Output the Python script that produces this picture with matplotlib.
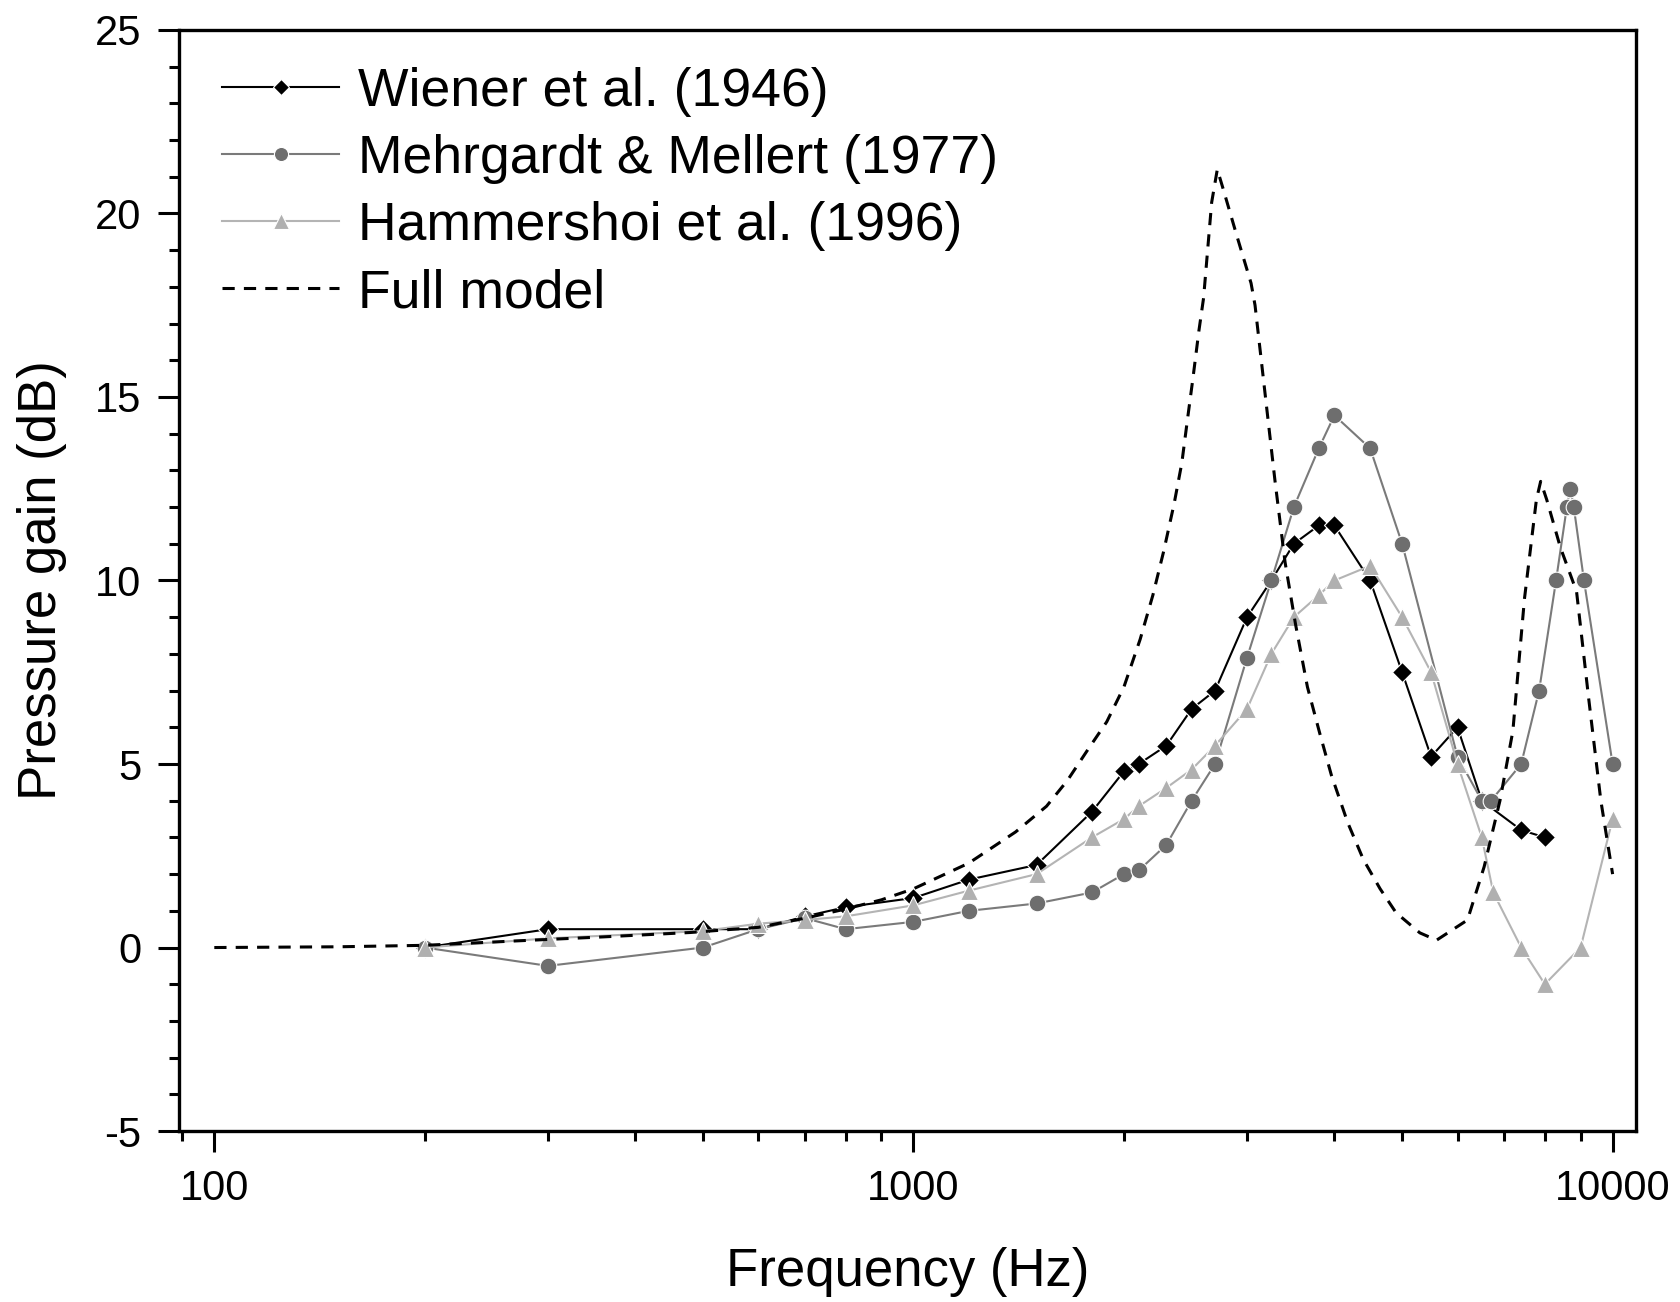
import matplotlib
matplotlib.use("Agg")
import matplotlib.pyplot as plt
from matplotlib.ticker import FixedLocator, MultipleLocator, LogLocator, NullFormatter

plt.rcParams["font.family"] = ["Liberation Sans", "DejaVu Sans"]
plt.rcParams["axes.unicode_minus"] = False

# -----------------------------
# Measured ear-canal pressure gain
# -----------------------------
wiener_freq = [200, 300, 500, 600, 700, 800, 1000, 1200, 1500, 1800, 2000, 2100, 2300,
               2500, 2700, 3000, 3250, 3500, 3800, 4000, 4500, 5000, 5500, 6000, 6500,
               7400, 8000]
wiener_gain = [0, 0.5, 0.5, 0.5, 0.85, 1.1, 1.35, 1.85, 2.25, 3.7, 4.8, 5.0, 5.5,
               6.5, 7.0, 9.0, 10.0, 11.0, 11.5, 11.5, 10.0, 7.5, 5.2, 6.0, 4.0,
               3.2, 3.0]

mehrgardt_freq = [200, 300, 500, 600, 700, 800, 1000, 1200, 1500, 1800, 2000, 2100, 2300,
                  2500, 2700, 3000, 3250, 3500, 3800, 4000, 4500, 5000, 6000, 6500, 6700,
                  7400, 7850, 8300, 8600, 8700, 8800, 9100, 10000]
mehrgardt_gain = [0, -0.5, 0, 0.5, 0.8, 0.5, 0.7, 1.0, 1.2, 1.5, 2.0, 2.1, 2.8,
                  4.0, 5.0, 7.9, 10.0, 12.0, 13.6, 14.5, 13.6, 11.0, 5.2, 4.0, 4.0,
                  5.0, 7.0, 10.0, 12.0, 12.5, 12.0, 10.0, 5.0]

hammershoi_freq = [200, 300, 500, 600, 700, 800, 1000, 1200, 1500, 1800, 2000, 2100, 2300,
                   2500, 2700, 3000, 3250, 3500, 3800, 4000, 4500, 5000, 5500, 6000, 6500,
                   6750, 7400, 8000, 9000, 10000]
hammershoi_gain = [0, 0.25, 0.45, 0.65, 0.75, 0.85, 1.15, 1.55, 2.0, 3.0, 3.5, 3.85, 4.35,
                   4.85, 5.5, 6.5, 8.0, 9.0, 9.6, 10.0, 10.4, 9.0, 7.5, 5.0, 3.0,
                   1.5, 0.0, -1.0, 0.0, 3.5]

# -----------------------------
# Model prediction
# -----------------------------
model_freq = [100, 150, 200, 270, 360, 480, 600, 700, 800, 900, 1000, 1200, 1400, 1550,
              1660, 1770, 1890, 2000, 2110, 2200, 2280, 2360, 2420, 2470, 2510, 2560,
              2600, 2670, 2720, 2770, 2900, 3040, 3080, 3170, 3290, 3400, 3520, 3660,
              3810, 3960, 4180, 4400, 4650, 4900, 5300, 5600, 6200, 6550, 6900, 7200,
              7480, 7780, 7890, 8050, 8420, 8880, 9240, 9620, 10000]
model_gain = [0.0, 0.02, 0.06, 0.18, 0.29, 0.41, 0.55, 0.8, 1.05, 1.3, 1.6, 2.3, 3.15, 3.85,
              4.55, 5.35, 6.15, 7.1, 8.4, 9.6, 10.8, 12.1, 13.2, 14.5, 15.5, 16.8,
              17.7, 20.3, 21.2, 20.7, 19.4, 18.1, 17.5, 15.4, 12.7, 10.5, 8.8, 7.1,
              5.85, 4.7, 3.4, 2.4, 1.6, 0.95, 0.4, 0.2, 0.75, 2.2, 4.0, 5.9,
              9.5, 12.2, 12.7, 12.2, 10.9, 9.7, 6.8, 4.0, 2.0]

series_labels = ["Wiener et al. (1946)", "Mehrgardt & Mellert (1977)",
                 "Hammershoi et al. (1996)", "Full model"]

# -----------------------------
# Plot
# -----------------------------
fig = plt.figure(figsize=(16.8, 13.02), dpi=100)
ax = fig.add_axes([0.1065, 0.1313, 0.8673, 0.8457])

ax.plot(wiener_freq, wiener_gain, color="black", lw=1.5, marker="D", ms=10,
        mfc="black", mec="white", mew=0.8, label=series_labels[0])
ax.plot(mehrgardt_freq, mehrgardt_gain, color="#7a7a7a", lw=1.5, marker="o", ms=12,
        mfc="#6e6e6e", mec="white", mew=0.8, label=series_labels[1])
ax.plot(hammershoi_freq, hammershoi_gain, color="#b4b4b4", lw=1.5, marker="^", ms=13,
        mfc="#b0b0b0", mec="white", mew=0.8, label=series_labels[2])
ax.plot(model_freq, model_gain, color="black", lw=2.2, ls=(0, (4, 3)),
        label=series_labels[3])

ax.set_xscale("log")
ax.set_xlim(89, 10800)
ax.set_ylim(-5, 25)

ax.xaxis.set_major_locator(FixedLocator([100, 1000, 10000]))
ax.xaxis.set_minor_locator(LogLocator(base=10, subs=range(2, 10), numticks=20))
ax.xaxis.set_minor_formatter(NullFormatter())
ax.set_xticklabels(["100", "1000", "10000"])
ax.yaxis.set_major_locator(MultipleLocator(5))
ax.yaxis.set_minor_locator(MultipleLocator(1))

ax.tick_params(which="major", direction="out", length=15, width=2.2, labelsize=30, pad=12)
ax.tick_params(which="minor", direction="out", length=7, width=2.2)
ax.tick_params(top=False, right=False)

for side in ["left", "bottom", "top", "right"]:
    ax.spines[side].set_linewidth(2.4)

ax.set_xlabel("Frequency (Hz)", fontsize=38, labelpad=28)
ax.set_ylabel("Pressure gain (dB)", fontsize=38, labelpad=20)

ax.legend(loc="upper left", frameon=False, fontsize=38.5, handlelength=2.2,
          handletextpad=0.35, labelspacing=0.32, borderaxespad=0.0,
          bbox_to_anchor=(0.0147, 0.986), markerscale=0.85)

fig.savefig("out.png", dpi=100)
